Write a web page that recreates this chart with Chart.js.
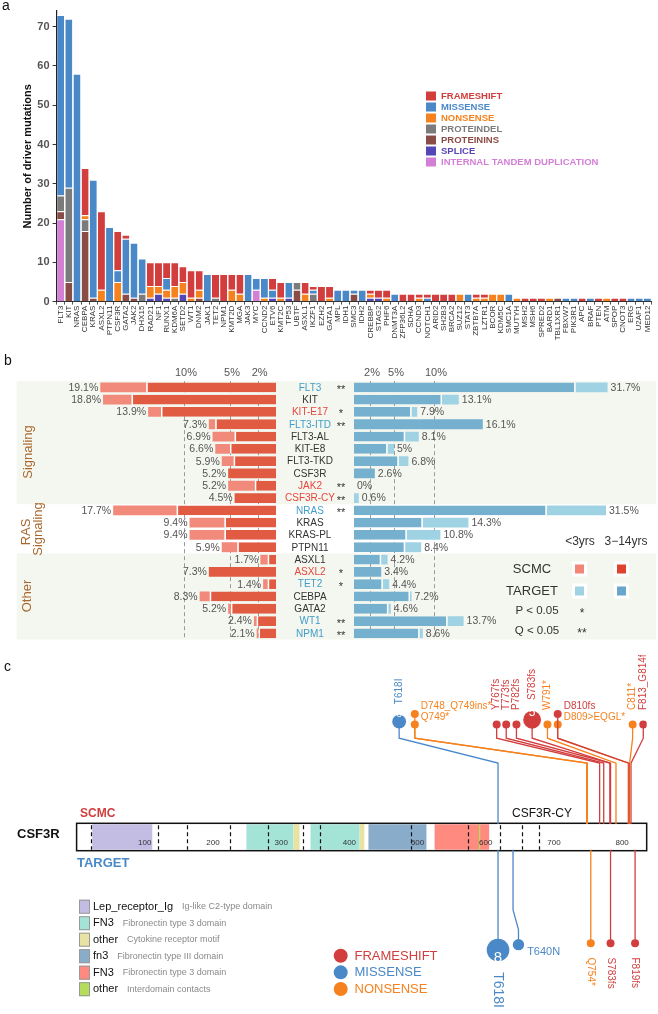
<!DOCTYPE html>
<html>
<head>
<meta charset="utf-8">
<title>Driver mutations, SCMC vs TARGET, CSF3R</title>
<script src="https://cdn.jsdelivr.net/npm/chart.js@4.4.1/dist/chart.umd.min.js"></script>
<style>
  body { margin: 0; background: #fff; }
  #page { position: relative; width: 658px; height: 1014px; overflow: hidden; font-family: "Liberation Sans", Arial, sans-serif; }
  #page canvas { position: absolute; }
  .tag { position: absolute; font-size: 14px; color: #111; }
</style>
</head>
<body>
<div id="page">
  <canvas id="mutBars" width="658" height="348" style="left:0;top:0"></canvas>
  <canvas id="scmcBars" width="354" height="285" style="left:0;top:360px"></canvas>
  <canvas id="targetBars" width="304" height="285" style="left:354px;top:360px"></canvas>
  <canvas id="csf3r" width="658" height="359" style="left:0;top:655px"></canvas>
  <div class="tag" style="left:2px;top:-3px">a</div>
  <div class="tag" style="left:4px;top:352px">b</div>
  <div class="tag" style="left:4px;top:658px">c</div>
</div>
<script>
const FONT = '"Liberation Sans", Arial, sans-serif';
Chart.defaults.font.family = FONT;

// ---- a: driver mutations per gene ----
const genes = ['FLT3','KIT','NRAS','CEBPA','KRAS','ASXL2','PTPN11','CSF3R','GATA2','JAK2',
  'DHX15','RAD21','NF1','RUNX1','KDM6A','SETD2','WT1','DNM2','JAK1','TET2',
  'NPM1','KMT2D','MGA','JAK3','MYC','CCND2','ETV6','KMT2C','TP53','UBTF',
  'ASXL1','IKZF1','EZH2','GATA1','MPL','IDH1','SMC3','IDH2','CREBBP','STAG2',
  'PHF6','DNMT3A','ZFP36L2','SDHA','CCND3','NOTCH1','ARID2','SH2B3','BRCA2','SUZ12',
  'STAT3','ZBTB7A','LZTR1','BCOR','KDM5C','SMC1A','MUTYH','MSH2','MSH6','SPRED2',
  'BARD1','TBL1XR1','FBXW7','PIK3R1','APC','BRAF','PTEN','ATM','SPOP','CNOT3',
  'ERG','U2AF1','MED12'];
const itd = [21,0,0,0,0,0,0,0,0,0, 0,0,0,0,0,0,0,0,0,0, 0,0,0,0,3,0,0,0,0,0, 0,0,0,0,0,0,0,0,0,0,
  0,0,0,0,0,0,0,0,0,0, 0,0,0,0,0,0,0,0,0,0, 0,0,0,0,0,0,0,0,0,0, 0,0,0];
const proteinIns = [2,5,0,18,1,0,0,0,2,1, 0,0,0,0,0,0,0,1,0,0, 0,0,0,0,0,0,0,0,0,3, 0,0,0,0,0,0,2,0,0,0,
  0,0,0,0,0,0,0,0,0,0, 0,0,0,0,0,0,0,0,0,0, 0,1,0,0,0,0,0,0,0,0, 0,0,0];
const proteinDel = [4,24,0,3,0,0,0,0,0,0, 2,0,0,0,1,0,0,0,0,1, 0,0,0,0,0,0,0,0,0,2, 0,2,0,0,0,0,0,0,0,0,
  0,0,0,0,0,0,0,0,0,0, 0,0,0,0,0,0,0,0,0,0, 0,0,0,0,0,0,0,0,0,0, 0,0,0];
const splice = [0,0,0,0,0,0,0,0,0,0, 0,1,2,1,0,2,0,0,0,0, 0,0,0,0,0,0,1,0,1,0, 0,0,0,0,0,0,0,0,1,1,
  0,0,0,0,0,0,0,0,0,0, 0,0,0,0,0,0,0,0,0,0, 0,0,0,0,0,0,0,0,0,0, 0,0,0];
const nonsense = [0,0,0,1,0,3,0,5,0,0, 0,3,2,2,3,3,1,2,0,0, 0,3,2,0,0,1,0,1,0,0, 2,0,0,1,0,0,0,0,1,0,
  1,0,0,0,1,0,0,0,0,2, 0,1,1,2,2,0,1,0,0,0, 1,0,0,0,0,0,0,1,0,0, 0,0,0];
const missense = [46,43,58,0,30,0,19,3,14,14, 9,0,0,3,0,0,0,0,7,0, 0,0,0,7,3,5,2,0,4,0, 0,1,0,0,3,3,1,3,0,0,
  0,2,0,0,0,1,0,0,0,0, 2,0,0,0,0,2,0,0,0,0, 0,0,1,1,0,1,0,0,0,0, 1,1,1];
const frameshift = [0,0,0,12,0,20,0,10,1,0, 0,6,6,4,6,4,7,5,0,6, 7,4,5,0,0,0,3,4,0,0, 3,1,4,3,0,0,0,0,1,2,
  2,0,2,2,1,1,2,2,2,0, 0,1,1,0,0,0,0,1,1,1, 0,0,0,0,1,0,1,0,1,1, 0,0,0];

const mutTypes = ['FRAMESHIFT','MISSENSE','NONSENSE','PROTEINDEL','PROTEININS','SPLICE','INTERNAL TANDEM DUPLICATION'];
const mutColors = ['#d23e3e','#4a88c7','#f5821f','#7b7b7b','#8a4c46','#5546b5','#d47fd6'];
// bottom to top of each stack
const stackOrder = [[itd, 6], [proteinIns, 4], [proteinDel, 3], [splice, 5], [nonsense, 2], [missense, 1], [frameshift, 0]];

const legendA = {
  id: 'legendA',
  afterDraw(chart) {
    const c = chart.ctx;
    c.save();
    c.font = 'bold 9.5px ' + FONT;
    c.textBaseline = 'middle';
    mutTypes.forEach((t, i) => {
      const y = 96 + 11 * i;
      c.fillStyle = mutColors[i];
      c.fillRect(426, y - 4.5, 10, 9);
      c.fillText(t, 441, y + 0.5);
    });
    c.restore();
  }
};

new Chart(document.getElementById('mutBars'), {
  type: 'bar',
  data: {
    labels: genes,
    datasets: stackOrder.map(([vals, k]) => ({
      label: mutTypes[k],
      data: vals.map(v => v || null),
      backgroundColor: mutColors[k],
      borderColor: '#ffffff',
      borderWidth: {top: 1, left: 0, right: 0, bottom: 0},
      borderSkipped: false,
      barPercentage: 0.86,
      categoryPercentage: 1
    }))
  },
  options: {
    responsive: false,
    animation: false,
    layout: {padding: {top: 11, right: 6.4, left: 0, bottom: 0}},
    plugins: {legend: {display: false}, tooltip: {enabled: false}},
    scales: {
      x: {
        stacked: true,
        afterFit: s => { s.height = 46.4; },
        ticks: {autoSkip: false, minRotation: 90, maxRotation: 90, padding: 1, color: '#333', font: {size: 8}},
        grid: {drawOnChartArea: false, tickLength: 3, color: '#555'},
        border: {color: '#333', width: 1}
      },
      y: {
        stacked: true,
        min: 0,
        max: 74,
        afterBuildTicks: s => { s.ticks = s.ticks.filter(t => t.value % 10 === 0); },
        afterFit: s => { s.width = 56.6; },
        ticks: {stepSize: 10, padding: 3, color: '#555', font: {size: 11, weight: 'bold'}},
        grid: {drawOnChartArea: false, tickLength: 4, color: '#333'},
        border: {color: '#222', width: 1.2},
        title: {display: true, text: 'Number of driver mutations', color: '#111',
                font: {size: 11, weight: 'bold'}, padding: {top: 21, bottom: 0}}
      }
    }
  },
  plugins: [legendA]
});

// ---- b: frequency in SCMC vs TARGET ----
const rowGenes = ['FLT3','KIT','KIT-E17','FLT3-ITD','FLT3-AL','KIT-E8','FLT3-TKD','CSF3R','JAK2','CSF3R-CY',
  'NRAS','KRAS','KRAS-PL','PTPN11','ASXL1','ASXL2','TET2','CEBPA','GATA2','WT1','NPM1'];
const rowSig = ['**','','*','**','','','','','**','**','**','','','','','*','*','','','**','**'];
// which cohort the gene is enriched in: T = TARGET, S = SCMC
const rowEnriched = ['T','','S','T','','','','','S','S','T','','','','','S','T','','','T','T'];
const scmcTotal = [19.1,18.8,13.9,7.3,6.9,6.6,5.9,5.2,5.2,4.5,17.7,9.4,9.4,5.9,1.7,7.3,1.4,8.3,5.2,2.4,2.1];
const scmcOld = [14.1,15.7,12.5,6.6,4.5,5.0,4.6,5.2,2.3,4.5,10.8,5.6,5.6,4.2,0.9,7.3,0.9,7.2,4.9,2.1,1.9];
const scmcYoung = [5.0,3.1,1.4,0.7,2.4,1.6,1.3,0,2.9,0,6.9,3.8,3.8,1.7,0.8,0,0.5,1.1,0.3,0.3,0.2];
const targetTotal = [31.7,13.1,7.9,16.1,8.1,5,6.8,2.6,0,0.6,31.5,14.3,10.8,8.4,4.2,3.4,4.4,7.2,4.6,13.7,8.6];
const targetOld = [27.7,11.0,7.2,16.1,6.4,4.2,5.6,2.6,0,0,24.1,8.6,6.6,6.4,3.4,3.4,3.6,7.0,4.3,11.7,8.2];
const targetYoung = [4.0,2.1,0.7,0,1.7,0.8,1.2,0,0,0.6,7.4,5.7,4.2,2.0,0.8,0,0.8,0.2,0.3,2.0,0.4];
const groups = [['Signaling', 0, 9, true], ['RAS\nSignaling', 10, 13, false], ['Other', 14, 20, true]];
const pctTicks = [2, 5, 10];

const BAND = '#f4f7ef';
const GROUP_COLOR = '#a8682f';
const enrichColor = {T: '#3f9dcb', S: '#e8453c', '': '#333'};

function fmtPct(v) { return v + '%'; }

function rowBand(chart) {
  return (chart.chartArea.bottom - chart.chartArea.top) / rowGenes.length;
}

function drawBands(chart, x0, x1) {
  const c = chart.ctx, y = chart.scales.y, h = rowBand(chart);
  c.save();
  c.fillStyle = BAND;
  groups.forEach(([, r0, r1, shade]) => {
    if (!shade) return;
    const top = y.getPixelForValue(r0) - h / 2;
    const bot = y.getPixelForValue(r1) + h / 2;
    c.fillRect(x0, top, x1 - x0, bot - top);
  });
  c.restore();
}

function drawPctGrid(chart) {
  const c = chart.ctx, x = chart.scales.x, a = chart.chartArea;
  c.save();
  c.strokeStyle = '#9a9a9a';
  c.lineWidth = 1;
  c.setLineDash([4, 3]);
  pctTicks.forEach(t => {
    const px = Math.round(x.getPixelForValue(t)) + 0.5;
    c.beginPath(); c.moveTo(px, a.top); c.lineTo(px, a.bottom); c.stroke();
  });
  c.setLineDash([]);
  c.fillStyle = '#555';
  c.font = '11px ' + FONT;
  c.textAlign = 'center';
  c.textBaseline = 'middle';
  pctTicks.forEach(t => c.fillText(t + '%', x.getPixelForValue(t) + 2, a.top - 8));
  c.restore();
}

const scmcPlugin = {
  id: 'scmcPlugin',
  beforeDraw(chart) { drawBands(chart, 16.7, chart.width); },
  beforeDatasetsDraw(chart) { drawPctGrid(chart); },
  afterDatasetsDraw(chart) {
    const c = chart.ctx, x = chart.scales.x, y = chart.scales.y;
    c.save();
    c.textBaseline = 'middle';
    c.font = '10.5px ' + FONT;
    c.fillStyle = '#555';
    c.textAlign = 'right';
    scmcTotal.forEach((v, i) => c.fillText(fmtPct(v), x.getPixelForValue(v) - 2, y.getPixelForValue(i) + 0.5));
    // gene names and significance marks
    rowGenes.forEach((g, i) => {
      const py = y.getPixelForValue(i) + 0.5;
      c.textAlign = 'center';
      c.font = '10px ' + FONT;
      c.fillStyle = enrichColor[rowEnriched[i]];
      c.fillText(g, 310, py);
      if (rowSig[i]) {
        c.fillStyle = '#333';
        c.font = '11px ' + FONT;
        c.fillText(rowSig[i], 341, py + 2);
      }
    });
    // group names
    c.fillStyle = GROUP_COLOR;
    c.font = '13px ' + FONT;
    c.textAlign = 'center';
    const centres = [[[28.5, 92]], [[26.5, 172], [38.5, 169]], [[27.5, 236]]];
    groups.forEach(([name], gi) => {
      name.split('\n').forEach((part, li) => {
        const [cx, cy] = centres[gi][li];
        c.save(); c.translate(cx, cy); c.rotate(-Math.PI / 2); c.fillText(part, 0, 0); c.restore();
      });
    });
    c.restore();
  }
};

const targetPlugin = {
  id: 'targetPlugin',
  beforeDraw(chart) { drawBands(chart, 0, chart.width - 2); },
  beforeDatasetsDraw(chart) { drawPctGrid(chart); },
  afterDatasetsDraw(chart) {
    const c = chart.ctx, x = chart.scales.x, y = chart.scales.y;
    c.save();
    c.textBaseline = 'middle';
    c.font = '10.5px ' + FONT;
    c.fillStyle = '#555';
    c.textAlign = 'left';
    targetTotal.forEach((v, i) => c.fillText(fmtPct(v), x.getPixelForValue(v) + 3, y.getPixelForValue(i) + 0.5));
    // legend
    c.fillStyle = '#333';
    c.textAlign = 'center';
    c.font = '12px ' + FONT;
    c.fillText('<3yrs', 226, 182);
    c.fillText('3\u221214yrs', 272, 182);
    c.font = '13px ' + FONT;
    c.fillText('SCMC', 178, 209);
    c.fillText('TARGET', 178, 231);
    c.font = '11.5px ' + FONT;
    c.fillText('P < 0.05', 183, 251);
    c.fillText('Q < 0.05', 183, 271);
    c.font = '12px ' + FONT;
    c.fillText('*', 228, 254);
    c.fillText('**', 228, 274);
    const keys = [[225.5, 209, '#f28577'], [267.5, 209, '#e0432c'], [225.5, 231, '#9fd3e3'], [267.5, 231, '#6aa5cc']];
    keys.forEach(([kx, ky, col]) => {
      c.fillStyle = '#fff';
      c.fillRect(kx - 7.5, ky - 7.5, 15, 15);
      c.fillStyle = col;
      c.fillRect(kx - 4.5, ky - 4.5, 9, 9);
    });
    c.restore();
  }
};

function pctChart(id, old, young, darkCol, lightCol, reverse, max, pad, plugin) {
  return new Chart(document.getElementById(id), {
    type: 'bar',
    data: {
      labels: rowGenes,
      datasets: [
        {label: '3-14yrs', data: old, backgroundColor: darkCol, borderColor: '#fff',
         borderWidth: ctx => young[ctx.dataIndex] > 0 ? (reverse ? {left: 1.5} : {right: 1.5}) : 0,
         borderSkipped: false},
        {label: '<3yrs', data: young, backgroundColor: lightCol, borderWidth: 0}
      ]
    },
    options: {
      indexAxis: 'y',
      responsive: false,
      animation: false,
      layout: {padding: pad},
      datasets: {bar: {barPercentage: 0.8, categoryPercentage: 1}},
      plugins: {legend: {display: false}, tooltip: {enabled: false}},
      scales: {
        x: {stacked: true, reverse: reverse, min: 0, max: max, display: false},
        y: {stacked: true, display: false}
      }
    },
    plugins: [plugin]
  });
}

pctChart('scmcBars', scmcOld, scmcYoung, '#e15a42', '#f28a7c', true, 30,
  {left: 0, right: 78, top: 21.2, bottom: 5.5}, scmcPlugin);
pctChart('targetBars', targetOld, targetYoung, '#76b0cf', '#9fd3e3', false, 38,
  {left: 0, right: 0, top: 21.2, bottom: 5.5}, targetPlugin);

// ---- c: CSF3R protein and mutations ----
const proteinLength = 836;
const domainNames = ['Lep_receptor_Ig','FN3','other','fn3','FN3','other'];
const domainNotes = ['Ig-like C2-type domain','Fibronectin type 3 domain','Cytokine receptor motif',
  'Fibronectin type III domain','Fibronectin type 3 domain','Interdomain contacts'];
const domainColors = ['#c3bde3','#a3e4d7','#e9e3a3','#8aaccb','#ff8a80','#b5dc5a'];
// [legend entry, start aa, end aa]
const domainSpans = [[0, 23, 111], [1, 249, 318], [2, 318, 327], [1, 343, 415], [2, 415, 422],
  [3, 428, 513], [4, 525, 605], [5, 590, 592]];
const exonBreaks = [21, 120, 162, 225, 281, 332, 357, 491, 574, 621, 653, 678];
const axisTicks = [100, 200, 300, 400, 500, 600, 700, 800];

const scmcMutName = ['T618I','D748_Q749ins*','Q749*','Y767fs','T773fs','P782fs','S783fs','W791*','D810fs','D809>EQGL*','C811*','F813_G814fs'];
const scmcMutPos = [618, 748, 749, 767, 773, 782, 783, 791, 810, 809, 811, 813];
const scmcMutType = ['MIS','NON','NON','FS','FS','FS','FS','NON','FS','NON','NON','FS'];
const scmcMutCount = [3, 1, 1, 1, 1, 1, 5, 1, 1, 1, 1, 1];
const targetMutName = ['T618I','T640N','Q754*','S783fs','F819fs'];
const targetMutPos = [618, 640, 754, 783, 819];
const targetMutType = ['MIS','MIS','NON','FS','FS'];
const targetMutCount = [8, 2, 1, 1, 1];

// layout of the lollipop heads (protein coordinate of each head, stacking and label style)
const scmcHeadAt = [473, 496, 496, 616, 630, 645, 668, 690.5, 705.5, 705.5, 815.4, 831];
const scmcHeadUp = [0, 1, 0, 0, 0, 0, 0, 0, 1, 0, 0, 0];
const scmcLabelFlat = [0, 1, 1, 0, 0, 0, 0, 0, 1, 1, 0, 0];
const targetHeadAt = [618, 648, 754, 783, 819];
const targetLabelFlat = [0, 1, 0, 0, 0];
const targetLabelSize = [14, 11, 10, 10, 10];
const L = {boxTop: 168.3, boxBot: 195.7, topBase: 66, upShift: 11, bend1: 76.7, bend2: 103.3,
  bend3: 260, bend4: 281, bottomBase: 291.5};

const typeColor = {FS: mutColors[0], MIS: mutColors[1], NON: mutColors[2]};
const headR = n => 4 * Math.sqrt(n);

const scmcHeadY = scmcMutCount.map((n, i) => L.topBase - headR(n) - (scmcHeadUp[i] ? L.upShift : 0));
const targetHeadY = targetMutCount.map(n => L.bottomBase + headR(n));

const stemSets = [];
scmcMutPos.forEach((p, i) => stemSets.push({
  type: 'line', showLine: true, pointRadius: 0, borderWidth: 1.3, borderColor: typeColor[scmcMutType[i]],
  data: [{x: p, y: L.boxTop}, {x: p, y: L.bend2}, {x: scmcHeadAt[i], y: L.bend1}, {x: scmcHeadAt[i], y: scmcHeadY[i]}]
}));
targetMutPos.forEach((p, i) => stemSets.push({
  type: 'line', showLine: true, pointRadius: 0, borderWidth: 1.3, borderColor: typeColor[targetMutType[i]],
  data: [{x: p, y: L.boxBot}, {x: p, y: L.bend3}, {x: targetHeadAt[i], y: L.bend4}, {x: targetHeadAt[i], y: targetHeadY[i]}]
}));
const headSet = {
  type: 'scatter',
  data: scmcHeadAt.map((h, i) => ({x: h, y: scmcHeadY[i]}))
    .concat(targetHeadAt.map((h, i) => ({x: h, y: targetHeadY[i]}))),
  pointRadius: scmcMutCount.concat(targetMutCount).map(headR),
  pointBackgroundColor: scmcMutType.concat(targetMutType).map(t => typeColor[t]),
  pointBorderWidth: 0,
  pointHoverRadius: 0
};

const proteinPlugin = {
  id: 'proteinPlugin',
  beforeDatasetsDraw(chart) {
    const c = chart.ctx, X = v => chart.scales.x.getPixelForValue(v);
    const x0 = X(0), x1 = X(proteinLength);
    c.save();
    c.fillStyle = '#fff';
    c.fillRect(x0, L.boxTop, x1 - x0, L.boxBot - L.boxTop);
    domainSpans.forEach(([k, s, e]) => {
      c.fillStyle = domainColors[k];
      c.fillRect(X(s), L.boxTop + 1, X(e) - X(s), L.boxBot - L.boxTop - 2);
    });
    c.strokeStyle = '#111';
    c.lineWidth = 1.2;
    c.setLineDash([4, 3]);
    exonBreaks.forEach(e => {
      const px = Math.round(X(e)) + 0.5;
      c.beginPath(); c.moveTo(px, L.boxTop + 2); c.lineTo(px, L.boxBot - 1); c.stroke();
    });
    c.setLineDash([]);
    c.lineWidth = 1.5;
    c.strokeRect(x0, L.boxTop, x1 - x0, L.boxBot - L.boxTop);
    c.fillStyle = '#333';
    c.font = '8px ' + FONT;
    c.textAlign = 'center';
    c.textBaseline = 'middle';
    axisTicks.forEach(t => c.fillText(String(t), X(t), L.boxBot - 8));
    // titles
    c.textAlign = 'left';
    c.font = 'bold 12px ' + FONT;
    c.fillStyle = '#d23e3e';
    c.fillText('SCMC', 80, 158.5);
    c.fillStyle = '#111';
    c.font = '12px ' + FONT;
    c.fillText('CSF3R-CY', 512, 158.5);
    c.font = 'bold 13px ' + FONT;
    c.fillText('CSF3R', 17, 179.5);
    c.fillStyle = '#4a88c7';
    c.fillText('TARGET', 77, 208.5);
    // domain legend
    domainNames.forEach((n, i) => {
      const y = 251.7 + 16.5 * i;
      c.fillStyle = domainColors[i];
      c.fillRect(79, y - 7, 11, 14);
      c.strokeStyle = '#999';
      c.lineWidth = 1;
      c.strokeRect(79.5, y - 6.5, 10, 13);
      c.fillStyle = '#111';
      c.font = '11px ' + FONT;
      c.fillText(n, 93, y);
      const w = c.measureText(n).width;
      c.fillStyle = '#8a8a8a';
      c.font = '9px ' + FONT;
      c.fillText(domainNotes[i], 93 + w + 9, y);
    });
    // mutation class legend
    [['FRAMESHIFT', 'FS'], ['MISSENSE', 'MIS'], ['NONSENSE', 'NON']].forEach(([n, t], i) => {
      const y = 300.7 + 16.65 * i;
      c.fillStyle = typeColor[t];
      c.beginPath(); c.arc(340.7, y, 7, 0, Math.PI * 2); c.fill();
      c.font = '13px ' + FONT;
      c.fillText(n, 354.5, y + 0.5);
    });
    c.restore();
  },
  afterDatasetsDraw(chart) {
    const c = chart.ctx, X = v => chart.scales.x.getPixelForValue(v);
    c.save();
    c.textBaseline = 'middle';
    const put = (txt, x, y, rot, size, col, align) => {
      c.save();
      c.translate(x, y);
      c.rotate(rot);
      c.fillStyle = col;
      c.font = size + 'px ' + FONT;
      c.textAlign = align;
      c.fillText(txt, 0, 0);
      c.restore();
    };
    const counts = (n, x, y) => {
      if (n < 2) return;
      c.fillStyle = '#fff';
      c.font = Math.round(headR(n) * 1.35) + 'px ' + FONT;
      c.textAlign = 'center';
      c.fillText(String(n), x, y + 0.5);
    };
    scmcMutName.forEach((n, i) => {
      const x = X(scmcHeadAt[i]), y = scmcHeadY[i], r = headR(scmcMutCount[i]);
      const col = typeColor[scmcMutType[i]];
      counts(scmcMutCount[i], x, y);
      if (scmcLabelFlat[i]) put(n, x + r + 2, y, 0, 10, col, 'left');
      else put(n, x, y - r - 3, -Math.PI / 2, 10, col, 'left');
    });
    targetMutName.forEach((n, i) => {
      const x = X(targetHeadAt[i]), y = targetHeadY[i], r = headR(targetMutCount[i]);
      const col = typeColor[targetMutType[i]];
      counts(targetMutCount[i], x, y);
      if (targetLabelFlat[i]) put(n, x + r + 3, y, 0, targetLabelSize[i], col, 'left');
      else put(n, x, y + r + 3, Math.PI / 2, targetLabelSize[i], col, 'left');
    });
    c.restore();
  }
};

new Chart(document.getElementById('csf3r'), {
  type: 'scatter',
  data: {datasets: stemSets.concat([headSet])},
  options: {
    responsive: false,
    animation: false,
    layout: {padding: {left: 76.6, right: 4.5, top: 0, bottom: 0}},
    plugins: {legend: {display: false}, tooltip: {enabled: false}},
    scales: {
      x: {type: 'linear', min: 0, max: proteinLength, display: false},
      y: {type: 'linear', min: 0, max: 359, reverse: true, display: false}
    }
  },
  plugins: [proteinPlugin]
});
</script>
</body>
</html>
